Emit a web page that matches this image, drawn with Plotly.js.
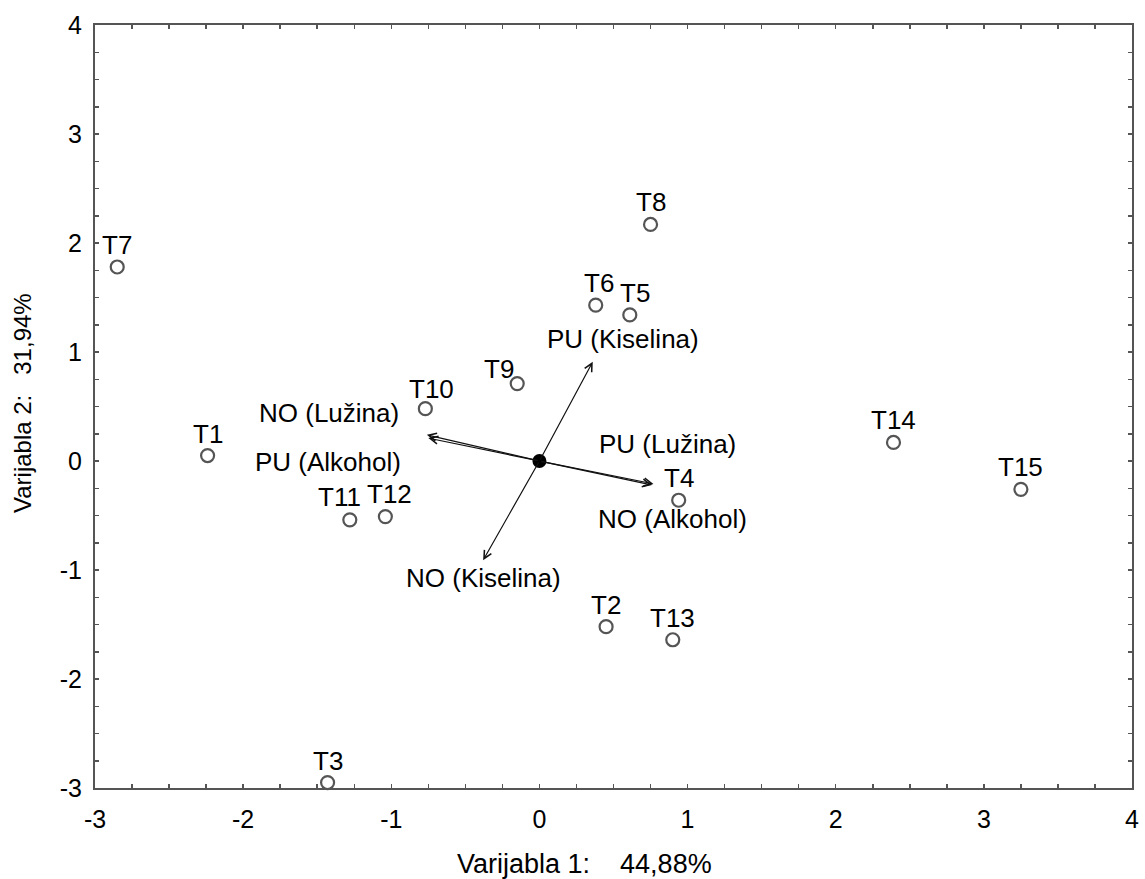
<!DOCTYPE html>
<html>
<head>
<meta charset="utf-8">
<script src="https://cdn.plot.ly/plotly-3.0.1.min.js"></script>
<style>html,body{margin:0;padding:0;background:#fff;}#chart{width:1145px;height:879px;}</style>
</head>
<body>
<div id="chart"></div>
<script>
// Observations (scores)
const pointLabels = ["T1","T2","T3","T4","T5","T6","T7","T8","T9","T10","T11","T12","T13","T14","T15"];
const pointX = [-2.24, 0.45, -1.43, 0.94, 0.61, 0.38, -2.85, 0.75, -0.15, -0.77, -1.28, -1.04, 0.90, 2.39, 3.25];
const pointY = [0.05, -1.52, -2.95, -0.36, 1.34, 1.43, 1.78, 2.17, 0.71, 0.48, -0.54, -0.51, -1.64, 0.17, -0.26];

// Variable vectors (loadings)
const varLabels = ["PU (Kiselina)", "NO (Kiselina)", "NO (Lužina)", "PU (Alkohol)", "PU (Lužina)", "NO (Alkohol)"];
const varX = [0.36, -0.38, -0.76, -0.75, 0.77, 0.76];
const varY = [0.91, -0.91, 0.24, 0.21, -0.21, -0.22];

// Tick labels
const tickValues = [-3, -2, -1, 0, 1, 2, 3, 4];
const tickLabels = ["-3", "-2", "-1", "0", "1", "2", "3", "4"];

const axisTitleX = "Varijabla 1:\u00A0\u00A0\u00A0\u00A044,88%";
const axisTitleY = "Varijabla 2:\u00A0\u00A0\u00A031,94%";

// label placement (style only): pixel offsets of point labels, default above centre
const pointLabelShift = {T9: [-18, 15], T11: [-10, 23], T12: [4, 23], T5: [5, 22], T6: [3, 22], T10: [6, 20]};
const varLabelShift = [[30, 23], [0, -18], [-98, 22], [-100, -24], [14, 40], [20, -34]];

const FONT = "Liberation Sans, Arial, sans-serif";

const traces = [
  {
    x: pointX, y: pointY, mode: "markers", type: "scatter",
    marker: {symbol: "circle-open", size: 13, color: "#555", line: {width: 2.2, color: "#555"}},
    cliponaxis: false, hoverinfo: "skip"
  },
  {
    x: [0], y: [0], mode: "markers", type: "scatter",
    marker: {symbol: "circle", size: 14, color: "#000"},
    hoverinfo: "skip"
  }
];

const annotations = [];
pointLabels.forEach((lab, i) => {
  const s = pointLabelShift[lab] || [0, 22];
  annotations.push({
    x: pointX[i], y: pointY[i], xref: "x", yref: "y",
    xshift: s[0], yshift: s[1], xanchor: "center", yanchor: "middle",
    showarrow: false, text: lab,
    font: {family: FONT, size: 26, color: "#000"}
  });
});
varLabels.forEach((lab, i) => {
  annotations.push({
    x: varX[i], y: varY[i], xref: "x", yref: "y",
    ax: 0, ay: 0, axref: "x", ayref: "y",
    showarrow: true, arrowhead: 5, arrowsize: 1.3, arrowwidth: 1.2, arrowcolor: "#111",
    text: ""
  });
  annotations.push({
    x: varX[i], y: varY[i], xref: "x", yref: "y",
    xshift: varLabelShift[i][0], yshift: varLabelShift[i][1],
    showarrow: false, text: lab,
    font: {family: FONT, size: 26, color: "#000"}
  });
});
annotations.push({
  xref: "paper", yref: "paper", x: 0.4725, y: -0.0996, xanchor: "center", yanchor: "middle",
  showarrow: false, text: axisTitleX, font: {family: FONT, size: 27, color: "#000"}
});
annotations.push({
  xref: "paper", yref: "paper", x: -0.0694, y: 0.5046, xanchor: "center", yanchor: "middle",
  textangle: -90, showarrow: false, text: axisTitleY, font: {family: FONT, size: 24, color: "#000"}
});

const axisCommon = {
  showgrid: false, zeroline: false, showline: true, linecolor: "#555", linewidth: 2,
  mirror: "ticks", ticks: "inside", ticklen: 4, tickwidth: 1.5, tickcolor: "#555",
  tickmode: "array", tickvals: tickValues, ticktext: tickLabels,
  tickfont: {family: FONT, size: 25, color: "#000"},
  minor: {dtick: 0.25, tick0: 0, ticks: "inside", ticklen: 4, tickwidth: 1.5, tickcolor: "#555"}
};

const layout = {
  width: 1145, height: 879,
  margin: {l: 95, r: 13, t: 25, b: 91},
  paper_bgcolor: "#fff", plot_bgcolor: "#fff",
  showlegend: false,
  xaxis: Object.assign({}, axisCommon, {range: [-3, 4], ticklabelstandoff: 8}),
  yaxis: Object.assign({}, axisCommon, {range: [-3, 4], ticklabelstandoff: 6}),
  annotations: annotations
};

Plotly.newPlot("chart", traces, layout, {displayModeBar: false, staticPlot: true});
</script>
</body>
</html>
